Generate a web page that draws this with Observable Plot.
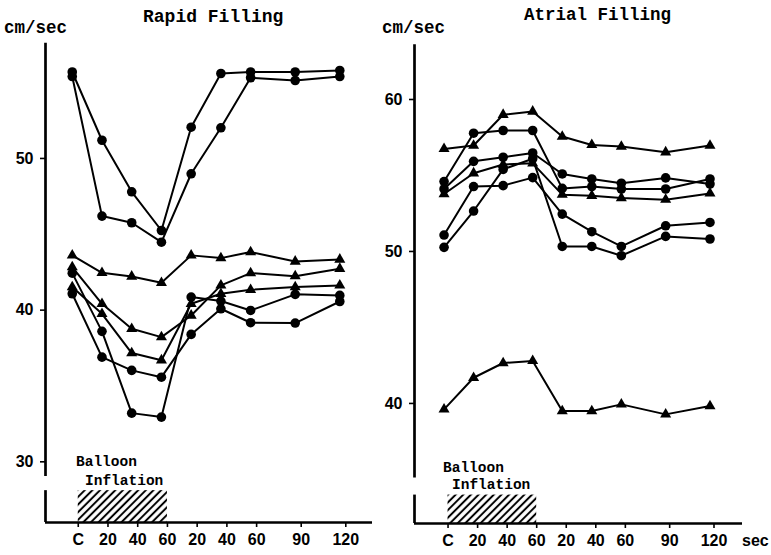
<!DOCTYPE html>
<html><head><meta charset="utf-8">
<script src="https://cdn.jsdelivr.net/npm/d3@7"></script>
<script src="https://cdn.jsdelivr.net/npm/@observablehq/plot@0.6"></script>
<style>
body{margin:0;background:#fff;}
#wrap{position:relative;width:771px;height:555px;overflow:hidden;background:#fff;}
#wrap svg{position:absolute;top:0;}
.lbl{position:absolute;white-space:pre;color:#000;transform:translateY(-50%);line-height:1;}
.mono{font-family:"Liberation Mono","DejaVu Sans Mono",monospace;font-weight:bold;}
.sans{font-family:"Liberation Sans",Arial,sans-serif;font-weight:bold;}
</style>
</head><body><div id="wrap"></div>
<script>
// time (s from control C); post-deflation 20,40,60,90,120 s follow 60 s of inflation
const times = [0, 20, 40, 60, 80, 100, 120, 150, 180];
const tickLabels = ["C", "20", "40", "60", "20", "40", "60", "90", "120"];
const inflation = [{start: 0, end: 60}];

// Rapid Filling (cm/sec)
const rapidCircle1   = [55.7, 51.2, 47.8, 45.25, 52.06, 55.6, 55.7, 55.7, 55.8];
const rapidCircle2   = [55.4, 46.2, 45.76, 44.48, 48.99, 52.02, 55.32, 55.14, 55.4];
const rapidTriangle1 = [43.61, 42.46, 42.22, 41.8, 43.61, 43.43, 43.83, 43.21, 43.34];
const rapidTriangle2 = [42.84, 40.42, 38.77, 38.22, 39.65, 41.63, 42.44, 42.24, 42.73];
const rapidTriangle3 = [41.52, 39.76, 37.17, 36.7, 40.42, 41.08, 41.34, 41.52, 41.63];
const rapidCircle3   = [42.44, 38.6, 33.21, 32.95, 40.86, 40.6, 39.98, 41.04, 40.97];
const rapidCircle4   = [41.08, 36.9, 36.03, 35.58, 38.4, 40.09, 39.17, 39.15, 40.57];

// Atrial Filling (cm/sec)
const atrialTriangle1 = [56.75, 56.97, 59.0, 59.21, 57.56, 57.01, 56.9, 56.53, 56.97];
const atrialCircle1   = [54.6, 57.78, 57.96, 57.96, 54.15, 54.27, 54.11, 54.11, 54.77];
const atrialCircle2   = [54.11, 55.93, 56.2, 56.48, 55.1, 54.77, 54.49, 54.84, 54.44];
const atrialTriangle2 = [53.78, 55.15, 55.72, 55.8, 53.74, 53.67, 53.52, 53.41, 53.82];
const atrialCircle3   = [51.08, 54.27, 54.33, 54.86, 52.46, 51.3, 50.33, 51.69, 51.91];
const atrialCircle4   = [50.27, 52.66, 55.4, 56.1, 50.33, 50.33, 49.72, 50.99, 50.82];
const atrialTriangle3 = [39.61, 41.69, 42.66, 42.8, 39.5, 39.5, 39.94, 39.28, 39.83];

const rapidTicks = [30, 40, 50];
const atrialTicks = [40, 50, 60];

function table(series) {
  return series.flatMap(([id, marker, vals]) => vals.map((v, i) => ({id, marker, t: times[i], v})));
}
const rapidData = table([
  ["rc1", "circle", rapidCircle1], ["rc2", "circle", rapidCircle2],
  ["rt1", "triangle", rapidTriangle1], ["rt2", "triangle", rapidTriangle2],
  ["rt3", "triangle", rapidTriangle3], ["rc3", "circle", rapidCircle3],
  ["rc4", "circle", rapidCircle4]
]);
const atrialData = table([
  ["at1", "triangle", atrialTriangle1], ["ac1", "circle", atrialCircle1],
  ["ac2", "circle", atrialCircle2], ["at2", "triangle", atrialTriangle2],
  ["ac3", "circle", atrialCircle3], ["ac4", "circle", atrialCircle4],
  ["at3", "triangle", atrialTriangle3]
]);

function panel(cfg) {
  const {data, ticks, yDomain, xDomain, width, mL, mR, mT, mB, axisTop, breakHi, breakLo, tickDx, hatchId} = cfg;
  const yb = yDomain[0];
  const svg = Plot.plot({
    width, height: 555,
    marginLeft: mL, marginRight: mR, marginTop: mT, marginBottom: mB,
    x: {domain: xDomain, axis: null},
    y: {domain: yDomain, axis: null},
    style: {fontFamily: "Liberation Sans, Arial, sans-serif", fontSize: "16px", fontWeight: "bold", color: "black", background: "transparent", overflow: "visible"},
    marks: [
      Plot.rect(inflation, {x1: "start", x2: "end", y1: yb, y2: breakLo, fill: `url(#${hatchId})`, dx: tickDx}),
      Plot.ruleX([xDomain[0]], {y1: axisTop, y2: breakHi, stroke: "black", strokeWidth: 2.7}),
      Plot.ruleX([xDomain[0]], {y1: breakLo, y2: yb, stroke: "black", strokeWidth: 2.7}),
      Plot.ruleY([yb], {x1: xDomain[0], x2: xDomain[1], stroke: "black", strokeWidth: 2.7}),
      Plot.axisY(ticks, {anchor: "left", tickSize: 5, tickPadding: 7, strokeWidth: 1.6, label: null, fontSize: 16, fontWeight: "bold"}),
      Plot.axisX(times, {anchor: "bottom", tickSize: 5, tickPadding: 6, strokeWidth: 1.6, dx: tickDx, label: null,
        tickFormat: d => tickLabels[times.indexOf(d)], fontSize: 16, fontWeight: "bold"}),
      Plot.line(data, {x: "t", y: "v", z: "id", stroke: "black", strokeWidth: 2}),
      Plot.dot(data.filter(d => d.marker === "circle"), {x: "t", y: "v", r: 4.8, fill: "black", symbol: "circle"}),
      Plot.dot(data.filter(d => d.marker === "triangle"), {x: "t", y: "v", r: 4.1, fill: "black", symbol: "triangle"})
    ]
  });
  const ns = "http://www.w3.org/2000/svg";
  const defs = document.createElementNS(ns, "defs");
  defs.innerHTML = `<pattern id="${hatchId}" patternUnits="userSpaceOnUse" width="5.4" height="5.4" patternTransform="rotate(45)"><line x1="2.7" y1="-1" x2="2.7" y2="6.4" stroke="black" stroke-width="2"/></pattern>`;
  svg.prepend(defs);
  return svg;
}

const wrap = document.getElementById("wrap");
const left = panel({data: rapidData, ticks: rapidTicks, yDomain: [26, 58], xDomain: [-18, 202],
  width: 385, mL: 45, mR: 13, mT: 36.6, mB: 33, axisTop: 57.6, breakHi: 29.04, breakLo: 28.1, tickDx: 6, hatchId: "hatchL"});
left.style.left = "0px";
wrap.appendChild(left);
const right = panel({data: atrialData, ticks: atrialTicks, yDomain: [32.1, 64], xDomain: [-20, 202],
  width: 386, mL: 29, mR: 29, mT: 38.2, mB: 32, axisTop: 63.6, breakHi: 35.09, breakLo: 33.97, tickDx: 4, hatchId: "hatchR"});
right.style.left = "385px";
wrap.appendChild(right);

const labels = [
  ["cm/sec", 4, 29, "mono", 17.5],
  ["Rapid Filling", 143, 17, "mono", 18],
  ["cm/sec", 382, 29, "mono", 17.5],
  ["Atrial Filling", 524, 16, "mono", 17.5],
  ["Balloon", 76, 462, "mono", 14.5],
  ["Inflation", 85, 481, "mono", 14.5],
  ["Balloon", 443, 468, "mono", 14.5],
  ["Inflation", 452, 485, "mono", 14.5],
  ["sec", 742, 541, "sans", 16]
];
for (const [txt, x, y, cls, fs] of labels) {
  const d = document.createElement("div");
  d.className = "lbl " + cls;
  d.textContent = txt;
  d.style.left = x + "px";
  d.style.top = y + "px";
  d.style.fontSize = fs + "px";
  wrap.appendChild(d);
}
</script>
</body></html>
